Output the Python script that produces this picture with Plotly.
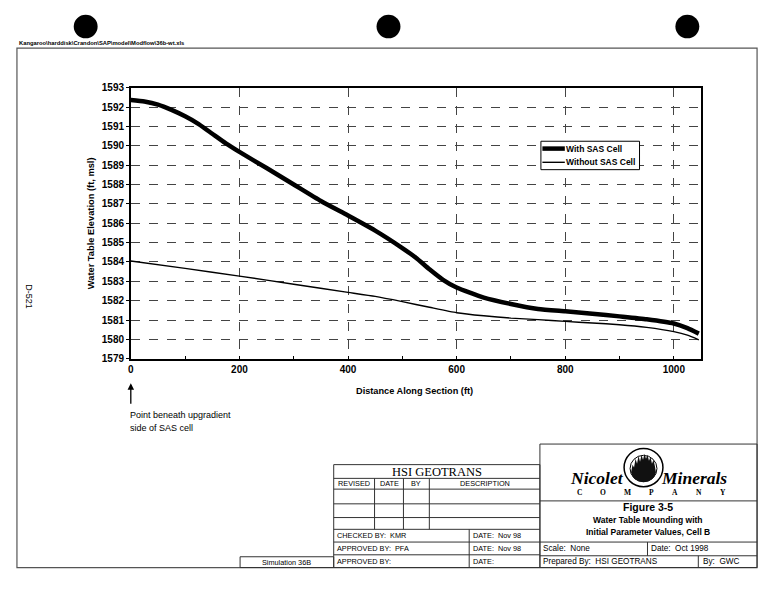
import plotly.graph_objects as go

# ---------------- data ----------------
series_names = ["With SAS Cell", "Without SAS Cell"]
distance_with = [0, 25, 50, 75, 100, 125, 150, 175, 200, 250, 300, 350, 400, 450,
                 500, 525, 550, 575, 600, 650, 700, 750, 800, 850, 900, 950, 1000, 1025, 1046]
elev_with = [1592.36, 1592.28, 1592.12, 1591.85, 1591.52, 1591.12, 1590.62, 1590.12,
             1589.68, 1588.85, 1588.00, 1587.15, 1586.40, 1585.62, 1584.72, 1584.22,
             1583.62, 1583.08, 1582.68, 1582.16, 1581.83, 1581.57, 1581.45, 1581.33,
             1581.19, 1581.04, 1580.82, 1580.58, 1580.30]
distance_without = [0, 100, 200, 300, 400, 450, 500, 550, 600, 650, 700, 750, 800, 850,
                    900, 950, 1000, 1025, 1046]
elev_without = [1584.05, 1583.67, 1583.27, 1582.85, 1582.43, 1582.22, 1581.95, 1581.66,
                1581.38, 1581.22, 1581.10, 1581.02, 1580.93, 1580.85, 1580.76, 1580.62,
                1580.40, 1580.22, 1579.98]
x_ticks = [0, 200, 400, 600, 800, 1000]
y_ticks = list(range(1579, 1594))

W, H = 775, 600
SANS = "Liberation Sans, Arial, sans-serif"
SERIF = "Liberation Serif, Times New Roman, serif"
THICK, THIN = 4.5, 1.4


def px(x):
    return x / W


def py(y):
    return 1 - y / H


fig = go.Figure()
fig.add_trace(go.Scatter(x=distance_with, y=elev_with, mode="lines", name=series_names[0],
                         line=dict(color="black", width=THICK, shape="spline",
                                   smoothing=0.5)))
fig.add_trace(go.Scatter(x=distance_without, y=elev_without, mode="lines",
                         name=series_names[1],
                         line=dict(color="black", width=THIN, shape="spline",
                                   smoothing=0.5)))

fig.update_layout(
    width=W, height=H, autosize=False,
    margin=dict(l=0, r=0, t=0, b=0, pad=0),
    paper_bgcolor="white", plot_bgcolor="white",
    showlegend=False,
)
fig.update_xaxes(domain=[px(128.3), px(700.7)], range=[0, 1050], tickvals=x_ticks,
                 showgrid=True, gridcolor="#444", griddash="dash", gridwidth=1,
                 showline=True, linecolor="black", linewidth=1.5, mirror=True,
                 ticks="", zeroline=False,
                 tickfont=dict(family=SANS, size=10, color="black", weight="bold"),
                 minor=dict(dtick=100, tick0=0, ticks="inside", ticklen=3,
                            tickcolor="black", showgrid=False))
fig.update_yaxes(domain=[py(360), py(83.3)], range=[1579, 1593], tickvals=y_ticks,
                 showgrid=True, gridcolor="#444", griddash="dash", gridwidth=1,
                 showline=True, linecolor="black", linewidth=1.5, mirror=True,
                 ticks="outside", ticklen=3, tickcolor="black", zeroline=False,
                 tickfont=dict(family=SANS, size=10, color="black", weight="bold"))

shapes = []


def line(x0, y0, x1, y1, w=1, c="#333"):
    shapes.append(dict(type="line", xref="paper", yref="paper",
                       x0=px(x0), y0=py(y0), x1=px(x1), y1=py(y1),
                       line=dict(color=c, width=w)))


def rect(x0, y0, x1, y1, w=1, c="#333", fill=None):
    d = dict(type="rect", xref="paper", yref="paper",
             x0=px(x0), y0=py(y0), x1=px(x1), y1=py(y1),
             line=dict(color=c, width=w))
    if fill:
        d["fillcolor"] = fill
    shapes.append(d)


def circle(cx, cy, r, fill="black", lc="black", w=0):
    shapes.append(dict(type="circle", xref="paper", yref="paper",
                       x0=px(cx - r), y0=py(cy + r), x1=px(cx + r), y1=py(cy - r),
                       fillcolor=fill, line=dict(color=lc, width=w)))


def poly(points, fill="black"):
    path = "M " + " L ".join(f"{px(a):.5f},{py(b):.5f}" for a, b in points) + " Z"
    shapes.append(dict(type="path", xref="paper", yref="paper", path=path,
                       fillcolor=fill, line=dict(color=fill, width=0)))


# punch holes
for cx in (83, 387, 687):
    circle(cx, 21, 12)

# outer frame
rect(14, 43, 757, 573, w=1.2, c="#555")

# legend (drawn)
rect(540, 138, 639, 167, w=1, c="black", fill="white")
line(541.5, 145.5, 564, 145.5, w=THICK, c="black")
line(541.5, 159.5, 564, 159.5, w=THIN, c="black")

# HSI box
rect(332, 468, 539, 573)
for yy in (482, 493, 508, 522, 534, 547, 560):
    line(332, yy, 539, yy)
for xx in (373, 402, 428):
    line(xx, 482, xx, 534)
line(468, 534, 468, 573)

# Nicolet box
rect(539, 447, 757, 573)
for yy in (505, 547, 561):
    line(539, yy, 757, yy)
line(647, 547, 647, 561)
line(698, 561, 698, 573)

# Simulation box
rect(238, 562, 332, 573)

# logo emblem
circle(643, 471, 19.5, fill="white", lc="black", w=1.5)
circle(643, 472, 13.5, fill="white", lc="black", w=1)
poly([(630.5, 476), (632, 468), (633.5, 471), (635, 462), (636.5, 467), (638, 459),
      (639.5, 465), (641, 458), (642.5, 463), (644, 457), (645.5, 462), (647, 458),
      (648.5, 464), (650, 460), (651.5, 467), (653, 463), (654.5, 470), (655.5, 476),
      (654, 480), (651, 483.5), (647, 485.3), (643, 485.8), (639, 485.3), (635, 483.5),
      (632, 480)], fill="#111")

fig.update_layout(shapes=shapes)

ann = []


def text(x, y, s, size=8, family=SANS, weight="normal", anchor="left", angle=0,
         style="normal"):
    ann.append(dict(xref="paper", yref="paper", x=px(x), y=py(y), text=s,
                    showarrow=False, xanchor=anchor, yanchor="middle",
                    textangle=angle, borderpad=0,
                    font=dict(family=family, size=size, color="black",
                              weight=weight, style=style)))


# header path
text(15, 38, "Kangaroo\\harddisk\\Crandon\\SAP\\model\\Modflow\\36b-wt.xls", size=5.8,
     weight="bold")
# side label
text(26, 297, "D-521", size=9, anchor="center", angle=90)

# axis titles
text(88, 222, "Water Table Elevation (ft, msl)", size=9.3, weight="bold",
     anchor="center", angle=-90)
text(413, 393, "Distance Along Section (ft)", size=9.2, weight="bold", anchor="center")

# legend texts
text(564.5, 145.5, series_names[0], size=8.5, weight="bold")
text(564.5, 159.5, series_names[1], size=8.5, weight="bold")

# annotation under x=0
ann.append(dict(xref="paper", yref="paper", x=px(128.3), y=py(385), ax=0, ay=22,
                text="", showarrow=True, arrowhead=2, arrowsize=1, arrowwidth=1.3,
                arrowcolor="black"))
text(126, 417, "Point beneath upgradient", size=9)
text(126, 431, "side of SAS cell", size=9)

# HSI box texts
text(435.5, 475, "HSI GEOTRANS", size=12.5, family=SERIF, anchor="center")
text(352.5, 487.5, "REVISED", size=7.3, anchor="center")
text(387.5, 487.5, "DATE", size=7.3, anchor="center")
text(415, 487.5, "BY", size=7.3, anchor="center")
text(483.5, 487.5, "DESCRIPTION", size=7.3, anchor="center")
text(334, 540.7, "CHECKED BY:  KMR", size=7.3)
text(334, 553.7, "APPROVED BY:  PFA", size=7.3)
text(334, 566.7, "APPROVED BY:", size=7.3)
text(471, 540.7, "DATE:  Nov 98", size=7.3)
text(471, 553.7, "DATE:  Nov 98", size=7.3)
text(471, 566.7, "DATE:", size=7.3)
text(285, 567.5, "Simulation 36B", size=7.3, anchor="center")

# Nicolet box texts
text(596, 481.5, "Nicolet", size=17.5, family=SERIF, weight="bold", style="italic",
     anchor="center")
text(693.5, 481.5, "Minerals", size=17.5, family=SERIF, weight="bold", style="italic",
     anchor="center")
for i, ch in enumerate("COMPANY"):
    text(578.5 + i * 24.1, 496.5, ch, size=7.5, family=SERIF, weight="bold",
         anchor="center")
text(648, 511, "Figure 3-5", size=10.5, weight="bold", anchor="center")
text(648, 524, "Water Table Mounding with", size=8.5, weight="bold", anchor="center")
text(648, 537, "Initial Parameter Values, Cell B", size=8.5, weight="bold",
     anchor="center")
text(541, 554, "Scale:  None", size=8.2)
text(650, 554, "Date:  Oct 1998", size=8.2)
text(541, 567, "Prepared By:  HSI GEOTRANS", size=8.2)
text(702, 567, "By:  GWC", size=8.2)

fig.update_layout(annotations=ann)

fig.write_html("out.html",
               config={"displayModeBar": False},
               post_script="document.body.style.margin='0';"
                           "document.body.style.overflow='hidden';")
